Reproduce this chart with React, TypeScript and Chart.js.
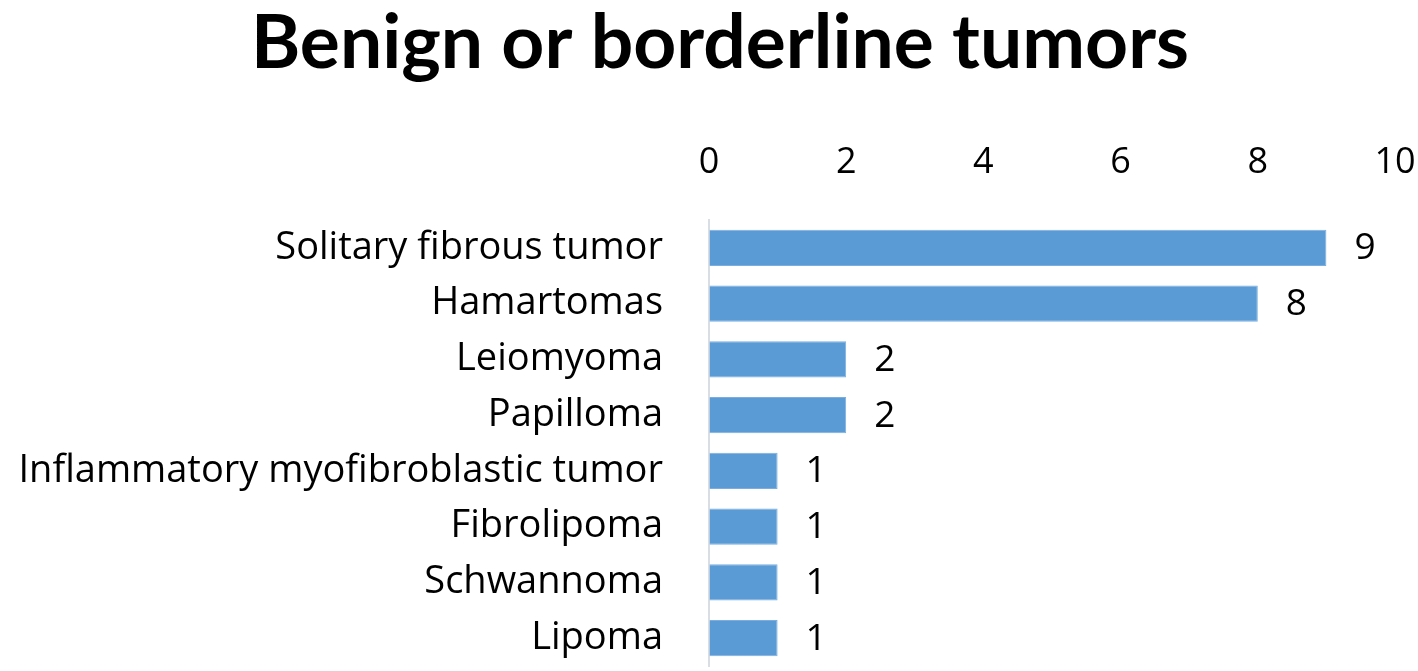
import React, { useEffect, useRef } from "react";
import { Chart, registerables } from "chart.js";

Chart.register(...registerables);

const categories = [
  "Solitary fibrous tumor",
  "Hamartomas",
  "Leiomyoma",
  "Papilloma",
  "Inflammatory myofibroblastic tumor",
  "Fibrolipoma",
  "Schwannoma",
  "Lipoma",
];
const counts = [9, 8, 2, 2, 1, 1, 1, 1];
const xTicks = [0, 2, 4, 6, 8, 10];
const titleText = "Benign or borderline tumors";

const FONT = "'Open Sans', Lato, sans-serif";
const TITLE_FONT = "Lato, 'Open Sans', sans-serif";

const valueLabels = {
  id: "valueLabels",
  afterDatasetsDraw(chart: any) {
    const ctx = chart.ctx;
    const meta = chart.getDatasetMeta(0);
    ctx.save();
    ctx.font = `37px ${FONT}`;
    ctx.fillStyle = "#000";
    ctx.textAlign = "left";
    ctx.textBaseline = "middle";
    meta.data.forEach((bar: any, i: number) => {
      ctx.fillText(String(counts[i]), bar.x + 28, bar.y + 1);
    });
    ctx.restore();
  },
};

const centeredTitle = {
  id: "centeredTitle",
  afterDraw(chart: any) {
    const ctx = chart.ctx;
    ctx.save();
    ctx.font = `bold 75px ${TITLE_FONT}`;
    ctx.fillStyle = "#000";
    ctx.textAlign = "center";
    ctx.textBaseline = "middle";
    ctx.fillText(titleText, 720, 44);
    ctx.restore();
  },
};

export default function App() {
  const ref = useRef<HTMLCanvasElement | null>(null);
  useEffect(() => {
    document.body.style.margin = "0";
    const chart = new Chart(ref.current as HTMLCanvasElement, {
      type: "bar",
      data: {
        labels: categories,
        datasets: [
          {
            data: counts,
            backgroundColor: "#5b9bd5",
            borderColor: "#7aaee0",
            borderWidth: 1,
            barPercentage: 0.65,
            categoryPercentage: 1,
          },
        ],
      },
      options: {
        indexAxis: "y",
        animation: false,
        responsive: false,
        maintainAspectRatio: false,
        layout: { padding: { left: 0, right: 23, top: 90, bottom: 5 } },
        plugins: {
          legend: { display: false },
          tooltip: { enabled: false },
          title: { display: false },
        },
        scales: {
          x: {
            position: "top",
            min: 0,
            max: 10,
            afterBuildTicks(scale: any) {
              scale.ticks = xTicks.map((v) => ({ value: v }));
            },
            afterFit(scale: any) {
              scale.height = 220 - 90;
              scale.paddingLeft = 0;
              scale.paddingRight = 0;
            },
            grid: {
              display: true,
              drawOnChartArea: false,
              drawTicks: true,
              tickLength: 33,
              color: "rgba(0,0,0,0)",
            },
            border: { display: false },
            ticks: {
              color: "#000",
              font: { family: FONT, size: 36 },
              padding: 3,
              maxRotation: 0,
            },
          },
          y: {
            afterFit(scale: any) {
              scale.width = 709;
              scale.paddingTop = 0;
              scale.paddingBottom = 0;
            },
            grid: {
              display: true,
              drawOnChartArea: false,
              drawTicks: true,
              tickLength: 43,
              color: "rgba(0,0,0,0)",
            },
            border: { display: true, color: "#d9dde4", width: 2 },
            ticks: {
              color: "#000",
              font: { family: FONT, size: 38 },
              padding: 3,
            },
          },
        },
      },
      plugins: [valueLabels, centeredTitle],
    });
    return () => chart.destroy();
  }, []);
  return (
    <div style={{ width: 1418, height: 671 }}>
      <canvas ref={ref} width={1418} height={671} style={{ display: "block" }} />
    </div>
  );
}
